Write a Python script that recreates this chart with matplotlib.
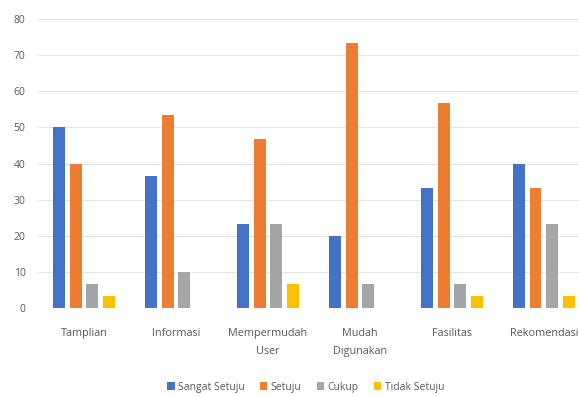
import matplotlib.pyplot as plt
import numpy as np

categories = ['Tamplian', 'Informasi', 'Mempermudah\nUser', 'Mudah\nDigunakan', 'Fasilitas', 'Rekomendasi']
series_names = ['Sangat Setuju', 'Setuju', 'Cukup', 'Tidak Setuju']
sangat_setuju = [50, 36.67, 23.33, 20, 33.33, 40]
setuju = [40, 53.33, 46.67, 73.33, 56.67, 33.33]
cukup = [6.67, 10, 23.33, 6.67, 6.67, 23.33]
tidak_setuju = [3.33, 0, 6.67, 0, 3.33, 3.33]
colors = ['#4472C4', '#ED7D31', '#A5A5A5', '#FFC000']

plt.rcParams['font.family'] = ['Open Sans', 'DejaVu Sans']

fig = plt.figure(figsize=(5.79, 3.96), dpi=100)
ax = fig.add_axes([0.0656, 0.222, 0.953, 0.730])

x = np.arange(len(categories))
step = 0.18
width = 0.13
all_series = [sangat_setuju, setuju, cukup, tidak_setuju]
for i, (vals, name, col) in enumerate(zip(all_series, series_names, colors)):
    ax.bar(x + (i - 1.5) * step, vals, width=width, color=col, label=name, zorder=3)

ax.set_xlim(-0.5, len(categories) - 0.5)
ax.set_ylim(0, 80)
ax.set_yticks(range(0, 81, 10))
ax.set_xticks(x)
ax.set_xticklabels(categories, fontsize=7.8, color='#595959', linespacing=1.9)
ax.tick_params(axis='y', labelsize=7.5, colors='#595959', length=0, pad=9)
ax.tick_params(axis='x', length=0, pad=14)
ax.grid(axis='y', color='#E3E3E3', linewidth=0.8, zorder=0)
for s in ax.spines.values():
    s.set_visible(False)

fig.legend(loc='center', bbox_to_anchor=(0.528, 0.022), ncol=4, frameon=False,
           fontsize=7.5, handlelength=0.7, handleheight=0.7, handletextpad=0.3,
           columnspacing=1.5, labelcolor='#595959')

fig.savefig('out.png', dpi=100)
